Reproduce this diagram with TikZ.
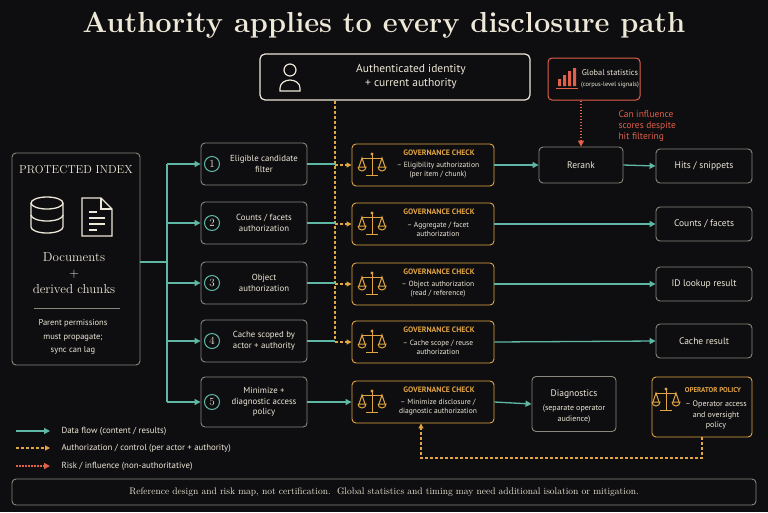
\documentclass[tikz,border=0pt]{standalone}
\usepackage{fontspec}
\setsansfont{PT Sans}
\usetikzlibrary{arrows.meta,calc}
\definecolor{bg}{HTML}{0E0E10}
\definecolor{teal}{HTML}{5FB8A6}
\definecolor{org}{HTML}{E2A544}
\definecolor{rd}{HTML}{E0604A}
\definecolor{gr}{HTML}{8C877C}
\definecolor{cr}{HTML}{EEE8D8}
\begin{document}
\begin{tikzpicture}[x=1pt,y=-1pt,
  box/.style={draw=gr,line width=0.9pt,rounded corners=4pt,fill=bg},
  gbox/.style={draw=org,line width=0.9pt,rounded corners=4pt,fill=bg,minimum width=142pt,minimum height=42pt},
  lbox/.style={box,minimum width=106pt,minimum height=42pt},
  rbox/.style={box,minimum width=96pt,minimum height=34pt,font=\sffamily\fontsize{9.5}{11}\selectfont,text=cr},
  txt/.style={text=cr,font=\sffamily\fontsize{8.8}{10.5}\selectfont,align=center},
  gt/.style={text=cr,font=\sffamily\fontsize{7.5}{8.8}\selectfont,align=center},
  flow/.style={teal,line width=1.3pt,-{Triangle[length=6pt,width=6pt]}},
  auth/.style={org,line width=1.1pt,dash pattern=on 3pt off 2pt,-{Triangle[length=5pt,width=5pt]}},
  risk/.style={rd,line width=1.6pt,dash pattern=on 1.5pt off 1.5pt,-{Triangle[length=6pt,width=6pt]}},
  num/.style={circle,draw=teal,line width=1pt,inner sep=0pt,minimum size=15pt,text=cr,font=\fontsize{11}{11}\selectfont},
  scales/.pic={\begin{scope}[org,line width=1pt]
    \draw (0,-11)--(0,10); \draw (-6,10)--(6,10); \fill (0,-11) circle (1.6);
    \draw (-10,-7)--(10,-7);
    \draw (-13,2)--(-10,-7)--(-7,2); \draw (7,2)--(10,-7)--(13,2);
    \draw (-14,2)--(-6,2) arc[start angle=0,end angle=180,radius=4];
    \draw (6,2)--(14,2) arc[start angle=0,end angle=180,radius=4];
  \end{scope}}]
\fill[bg] (0,0) rectangle (768,512);
\useasboundingbox (0,0) rectangle (768,512);
% title
\node[text=cr,font=\bfseries\fontsize{29}{32}\selectfont] (title) at (384,25) {Authority applies to every disclosure path};
% identity
\node[draw=cr,line width=1.2pt,rounded corners=5pt,fill=bg,minimum width=270pt,minimum height=46pt] (id) at (395,77) {};
\node[text=cr,font=\sffamily\fontsize{11.5}{14}\selectfont,align=center] (idt) at (411,77) {Authenticated identity\\+ current authority};
\draw[cr,line width=1.2pt] (290,70) circle (6);
\draw[cr,line width=1.2pt] (280,91) -- (280,88) arc[start angle=180,end angle=360,x radius=10,y radius=8] -- (300,91) -- cycle;
% global stats
\node[draw=rd,line width=1pt,rounded corners=4pt,fill=bg,minimum width=92pt,minimum height=42pt] (gs) at (594,79) {};
\node[text=cr,font=\sffamily\fontsize{8.3}{11}\selectfont,align=center] (gst) at (610,79) {Global statistics\\{\fontsize{6.4}{9}\selectfont(corpus-level signals)}};
\fill[rd] (558,79) rectangle (561,86) (563,75) rectangle (566,86) (568,71) rectangle (571,86) (573,68) rectangle (576,86);
\draw[rd,line width=0.8pt] (556,88)--(578,88);
\node[text=rd,font=\sffamily\fontsize{9.5}{11}\selectfont,align=left,anchor=west] (risknote) at (615,126) {Can influence\\scores despite\\hit filtering};
% protected index
\node[box,minimum width=128pt,minimum height=212pt] (pi) at (76,259) {};
\node[text=cr,font=\fontsize{11.5}{13}\selectfont] (pit) at (76,170) {PROTECTED INDEX};
\begin{scope}[cr,line width=1.3pt]
 \draw (47,203) ellipse (16 and 6);
 \draw (31,203)--(31,227) arc[start angle=180,end angle=0,x radius=16,y radius=6] --(63,203);
 \draw (31,215) arc[start angle=180,end angle=0,x radius=16,y radius=6];
 \draw (82,198)--(101,198)--(112,209)--(112,236)--(82,236)--cycle;
 \draw (101,198)--(101,209)--(112,209);
 \draw (89,212)--(97,212) (89,218)--(105,218) (89,224)--(105,224) (89,230)--(97,230);
\end{scope}
\node[text=cr,font=\fontsize{13}{16}\selectfont,align=center] (doc) at (74,273) {Documents\\+\\derived chunks};
\draw[gr,line width=0.8pt] (34,308)--(120,308);
\node[txt,font=\sffamily\fontsize{8.5}{13.5}\selectfont] (pp) at (73,337) {Parent permissions\\must propagate;\\sync can lag};
% left boxes
\foreach \n/\y/\t/\h in {1/164/{Eligible candidate\\filter}/42,2/223/{Counts / facets\\authorization}/42,3/283/{Object\\authorization}/42,4/341/{Cache scoped by\\actor + authority}/42,5/402/{Minimize +\\diagnostic access\\policy}/50}{
  \node[lbox,minimum height=\h pt] (l\n) at (254,\y) {};
  \node[num] (c\n) at (212,\y) {\n};
  \node[txt] (lt\n) at (264,\y) {\t};
}
% gov boxes
\foreach \n/\y/\t in {1/165/{-- Eligibility authorization\\(per item / chunk)},2/224/{-- Aggregate / facet\\authorization},3/284/{-- Object authorization\\(read / reference)},4/342/{-- Cache scope / reuse\\authorization},5/402/{-- Minimize disclosure /\\diagnostic authorization}}{
  \node[gbox] (g\n) at (423,\y) {};
  \pic at (372,\y) {scales};
  \node[gt] (gt\n) at (438,\y+5) {\t};
  \node[text=org,font=\sffamily\bfseries\fontsize{7.8}{9}\selectfont] (gh\n) at (439,\y-12) {GOVERNANCE CHECK};
}
% right boxes
\node[rbox,minimum width=84pt,minimum height=36pt] (rr) at (581,165) {Rerank};
\node[rbox] (hits) at (704,166) {Hits / snippets};
\node[rbox] (cf) at (704,224) {Counts / facets};
\node[rbox] (idl) at (704,284) {ID lookup result};
\node[rbox] (cr) at (704,341) {Cache result};
\node[box,minimum width=84pt,minimum height=55pt] (dg) at (574,404) {};
\node[txt,font=\sffamily\fontsize{9.5}{11}\selectfont] (dgt) at (574,394) {Diagnostics};
\node[gt,font=\sffamily\fontsize{8}{10.5}\selectfont] (dgs) at (574,414) {(separate operator\\audience)};
\node[draw=org,line width=0.9pt,rounded corners=4pt,fill=bg,minimum width=100pt,minimum height=60pt] (op) at (702,407) {};
\pic at (666,400) {scales};
\node[text=org,font=\sffamily\bfseries\fontsize{7}{8}\selectfont] (opt) at (713,390) {OPERATOR POLICY};
\node[gt,font=\sffamily\fontsize{8}{10.5}\selectfont] (ops) at (716,415) {-- Operator access\\and oversight\\policy};
% trunk
\coordinate (tr) at (167,262);
\draw[teal,line width=1.3pt] (pi.east|-tr)--(tr);
\draw[teal,line width=1.3pt] (167,164)--(167,402);
\foreach \n in {1,...,5}{\draw[flow] (tr|-l\n) -- (l\n.west);}
% auth line
\coordinate (ax) at (335,101);
\draw[org,line width=1.1pt,dash pattern=on 3pt off 2pt] (ax)--(335,342);
\foreach \n in {1,...,4}{
  \draw[teal,line width=1.3pt] (l\n.east)--(335,0|-l\n);
  \draw[auth] (335,0|-g\n.west)--(g\n.west);
}
\draw[flow] (l5.east)--(g5.west);
% outputs
\draw[flow] (g1.east)--(rr.west);
\draw[flow] (rr.east)--(hits.west);
\draw[flow] (g2.east)--(cf.west);
\draw[flow] (g3.east)--(idl.west);
\draw[flow] (g4.east)--(cr.west);
\draw[flow] (g5.east)--(dg.west);
\draw[risk] (gs.south-|rr.north)--(rr.north);
\draw[auth] (op.south) -- (op.south|-0,458) -- (421,458) -- (421,0|-g5.south);
% legend
\coordinate (la) at (16,431); \coordinate (lb) at (16,448); \coordinate (lc) at (16,466);
\draw[flow] (la)--++(34,0);
\draw[auth] (lb)--++(34,0);
\draw[risk] (lc)--++(34,0);
\node[txt,anchor=west] (lt1) at (58,431) {Data flow (content / results)};
\node[txt,anchor=west] (lt2) at (58,448) {Authorization / control (per actor + authority)};
\node[txt,anchor=west] (lt3) at (58,466) {Risk / influence (non-authoritative)};
% footer
\node[box,minimum width=744pt,minimum height=26pt,font=\fontsize{9.5}{11}\selectfont,text=cr] (ft) at (384,492) {Reference design and risk map, not certification.\ \ Global statistics and timing may need additional isolation or mitigation.};
\end{tikzpicture}
\end{document}
